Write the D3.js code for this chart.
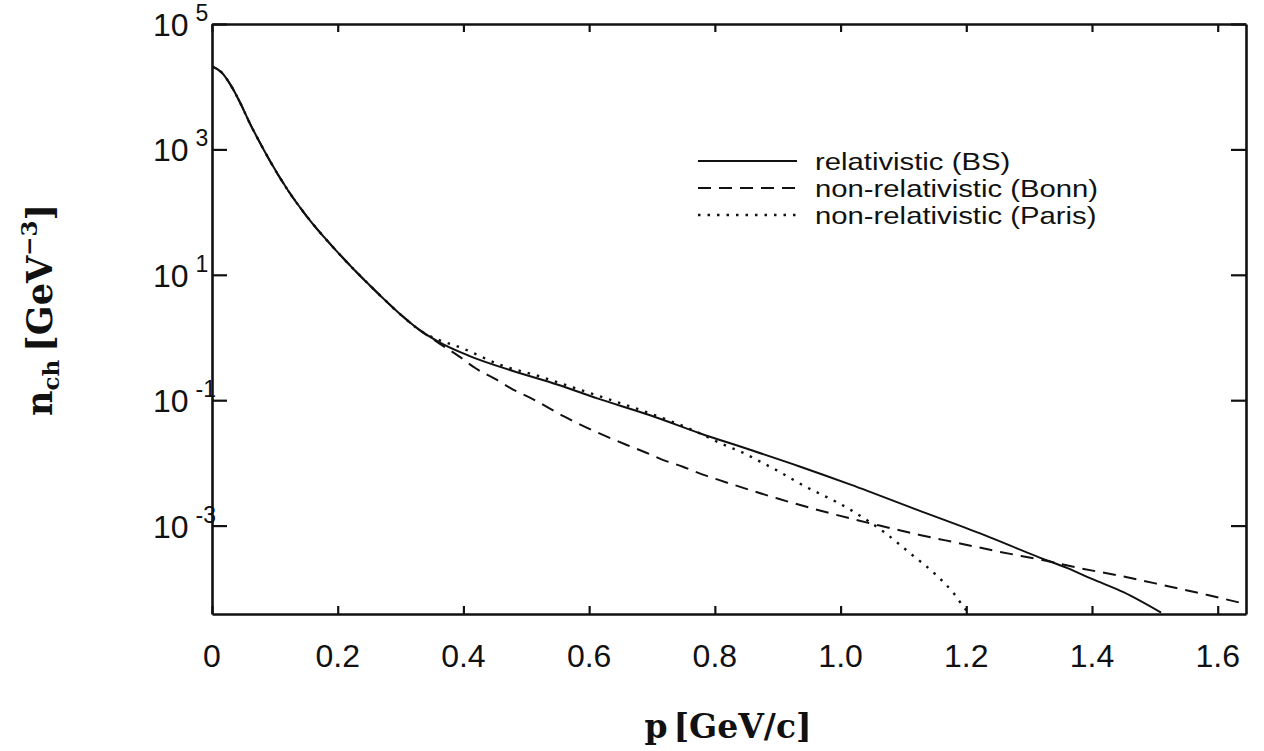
<!DOCTYPE html>
<html>
<head>
<meta charset="utf-8">
<script src="https://cdn.jsdelivr.net/npm/d3@7"></script>
<style>
  body { margin: 0; background: #fff; }
  svg { display: block; }
</style>
</head>
<body>
<div id="chart"></div>
<script>
// momentum values p [GeV/c] and densities n_ch [GeV^-3]
const pBS = [0, 0.015, 0.03, 0.045, 0.06, 0.075, 0.09, 0.12, 0.151, 0.19, 0.225, 0.25, 0.273, 0.3, 0.33, 0.362, 0.409, 0.48, 0.549, 0.613, 0.697, 0.777, 0.856, 0.936, 1.016, 1.122, 1.228, 1.313, 1.361, 1.40, 1.45, 1.51]
const nBS = [2.1e4, 1.7e4, 1.05e4, 5.5e3, 2.63e3, 1.35e3, 716, 229, 85, 29.5, 12.4, 6.95, 4.14, 2.32, 1.32, 0.836, 0.51, 0.29, 0.178, 0.107, 0.0575, 0.0295, 0.0162, 0.0087, 0.0045, 0.00178, 7.1e-4, 3.2e-4, 2.1e-4, 1.41e-4, 8.7e-5, 4.1e-5]

const pBonn = [0, 0.015, 0.03, 0.045, 0.06, 0.075, 0.09, 0.12, 0.151, 0.19, 0.225, 0.25, 0.273, 0.3, 0.33, 0.362, 0.393, 0.42, 0.452, 0.479, 0.508, 0.56, 0.621, 0.659, 0.691, 0.717, 0.749, 0.781, 0.805, 0.9, 1.025, 1.062, 1.126, 1.19, 1.254, 1.323, 1.38, 1.449, 1.514, 1.584, 1.645]
const nBonn = [2.1e4, 1.7e4, 1.05e4, 5.5e3, 2.63e3, 1.35e3, 716, 229, 85, 29.5, 12.4, 6.95, 4.14, 2.32, 1.32, 0.80, 0.50, 0.32, 0.214, 0.148, 0.107, 0.055, 0.0282, 0.0195, 0.0145, 0.0112, 0.0087, 0.0065, 0.0054, 0.0027, 0.00123, 0.001, 7.1e-4, 5.2e-4, 3.8e-4, 2.8e-4, 2.1e-4, 1.55e-4, 1.12e-4, 7.8e-5, 5.6e-5]

const pParis = [0, 0.015, 0.03, 0.045, 0.06, 0.075, 0.09, 0.12, 0.151, 0.19, 0.225, 0.25, 0.273, 0.3, 0.33, 0.35, 0.398, 0.457, 0.521, 0.584, 0.627, 0.7, 0.77, 0.814, 0.845, 0.872, 0.903, 0.93, 1.016, 1.069, 1.111, 1.149, 1.18, 1.196, 1.205]
const nParis = [2.1e4, 1.7e4, 1.05e4, 5.5e3, 2.63e3, 1.35e3, 716, 229, 85, 29.5, 12.4, 6.95, 4.14, 2.32, 1.32, 1.02, 0.676, 0.372, 0.24, 0.148, 0.107, 0.060, 0.0316, 0.0195, 0.0145, 0.0105, 0.0072, 0.0050, 0.00178, 7.9e-4, 3.6e-4, 1.74e-4, 8.3e-5, 5.0e-5, 3.9e-5]

const xTicks = [0, 0.2, 0.4, 0.6, 0.8, 1.0, 1.2, 1.4, 1.6]
const xTickLabels = ["0", "0.2", "0.4", "0.6", "0.8", "1.0", "1.2", "1.4", "1.6"]
const yExponents = [5, 3, 1, -1, -3]

const seriesNames = ["relativistic (BS)", "non-relativistic (Bonn)", "non-relativistic (Paris)"]
const seriesDash = [null, "13,8", "2.5,7"]

const width = 1264
const height = 751
const margin = { left: 212, right: 18, top: 24, bottom: 137 }

const svg = d3.select("#chart")
    .append("svg")
    .attr("width", width)
    .attr("height", height)

const x = d3.scaleLinear()
    .domain([0, 1.645])
    .range([margin.left, width - margin.right])

const y = d3.scaleLog()
    .domain([Math.pow(10, -4.41), 1e5])
    .range([height - margin.bottom, margin.top])

// clip curves to the frame
svg.append("clipPath").attr("id", "frame")
    .append("rect")
    .attr("x", margin.left).attr("y", margin.top)
    .attr("width", width - margin.left - margin.right)
    .attr("height", height - margin.top - margin.bottom)

const line = d3.line()
    .x(d => x(d[0]))
    .y(d => y(d[1]))
    .curve(d3.curveMonotoneX)

const series = [
    d3.zip(pBS, nBS),
    d3.zip(pBonn, nBonn),
    d3.zip(pParis, nParis)
]

svg.append("g")
    .attr("clip-path", "url(#frame)")
    .selectAll("path")
    .data(series)
    .enter().append("path")
    .attr("d", line)
    .attr("fill", "none")
    .attr("stroke", "#111")
    .attr("stroke-width", (d, i) => i == 2 ? 2.4 : 2)
    .attr("stroke-dasharray", (d, i) => seriesDash[i])

// axes, ticks pointing inward
const yTickVals = yExponents.map(e => Math.pow(10, e))

const axes = [
    d3.axisBottom(x).tickValues(xTicks).tickSize(-8).tickFormat(""),
    d3.axisTop(x).tickValues(xTicks).tickSize(-8).tickFormat(""),
    d3.axisLeft(y).tickValues(yTickVals).tickSize(-15).tickFormat(""),
    d3.axisRight(y).tickValues(yTickVals).tickSize(-15).tickFormat("")
]
const axisPos = [
    `translate(0,${height - margin.bottom})`,
    `translate(0,${margin.top})`,
    `translate(${margin.left},0)`,
    `translate(${width - margin.right},0)`
]

axes.forEach((a, i) => {
    const g = svg.append("g").attr("transform", axisPos[i]).call(a.tickSizeOuter(0))
    g.select(".domain").attr("stroke", "#111").attr("stroke-width", 2.6)
    g.selectAll(".tick line").attr("stroke", "#111").attr("stroke-width", 2.2)
})

// x tick labels
svg.append("g")
    .selectAll("text")
    .data(xTicks)
    .enter().append("text")
    .attr("x", d => x(d))
    .attr("y", 667)
    .attr("text-anchor", "middle")
    .style("font-family", "Liberation Sans, Arial, sans-serif")
    .style("font-size", "32px")
    .attr("fill", "#111")
    .text((d, i) => xTickLabels[i])

// y tick labels 10^n
const yLab = svg.append("g")
    .selectAll("text")
    .data(yExponents)
    .enter().append("text")
    .attr("x", 153)
    .attr("y", d => y(Math.pow(10, d)) + 12)
    .style("font-family", "Liberation Sans, Arial, sans-serif")
    .style("font-size", "32px")
    .attr("fill", "#111")

yLab.append("tspan").text("10")
yLab.append("tspan")
    .attr("dx", 7)
    .attr("dy", -15)
    .style("font-size", "23px")
    .text(d => d)

// axis titles
const xTitle = svg.append("text")
    .attr("x", 728)
    .attr("y", 738)
    .attr("text-anchor", "middle")
    .style("font-family", "DejaVu Serif, serif")
    .style("font-weight", "bold")
    .style("font-size", "33px")
    .attr("fill", "#111")
xTitle.append("tspan").text("p")
xTitle.append("tspan").attr("dx", 6).text("[GeV/c]")

const yTitle = svg.append("text")
    .attr("transform", "translate(52,310) rotate(-90)")
    .attr("text-anchor", "middle")
    .style("font-family", "DejaVu Serif, serif")
    .style("font-weight", "bold")
    .style("font-size", "35px")
    .attr("fill", "#111")
yTitle.append("tspan").text("n")
yTitle.append("tspan").attr("dy", 7).style("font-size", "23px").text("ch")
yTitle.append("tspan").attr("dy", -7).attr("dx", 8).text("[GeV")
yTitle.append("tspan").attr("dy", -15).style("font-size", "23px").text("\u22123")
yTitle.append("tspan").attr("dy", 15).text("]")

// legend
const legend = svg.append("g")
    .selectAll("g")
    .data(seriesNames)
    .enter().append("g")
    .attr("transform", (d, i) => `translate(0,${161 + i * 27})`)

legend.append("line")
    .attr("x1", 698).attr("x2", 797)
    .attr("y1", 0).attr("y2", 0)
    .attr("stroke", "#111")
    .attr("stroke-width", (d, i) => i == 2 ? 2.4 : 2)
    .attr("stroke-dasharray", (d, i) => seriesDash[i])

// the scanned legend lettering is wider than it is tall
legend.append("text")
    .attr("transform", "translate(815,9) scale(1.22,1)")
    .style("font-family", "Liberation Sans, Arial, sans-serif")
    .style("font-size", "24px")
    .attr("fill", "#111")
    .text(d => d)
</script>
</body>
</html>
